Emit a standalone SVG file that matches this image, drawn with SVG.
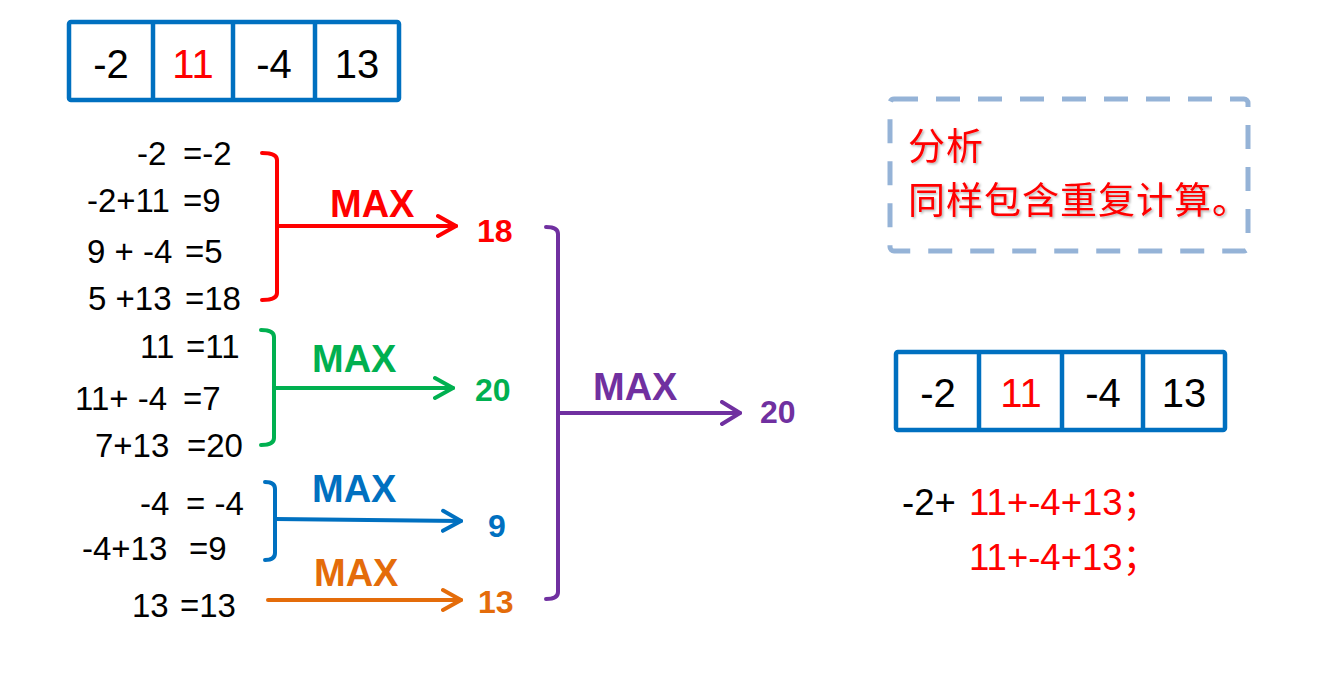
<svg xmlns="http://www.w3.org/2000/svg" width="1318" height="678" viewBox="0 0 1318 678">
<style>
.cell{fill:none;stroke:#0070C0;stroke-width:4.5}
.num{font-family:"Liberation Sans",Arial,sans-serif;font-size:40px;text-anchor:middle}
.eq{font-family:"Liberation Sans",Arial,sans-serif;font-size:33px;fill:#000}
.max{font-family:"Liberation Sans",Arial,sans-serif;font-size:38px;font-weight:bold}
.res{font-family:"Liberation Sans",Arial,sans-serif;font-size:32px;font-weight:bold}
.br{fill:none;stroke-width:4;stroke-linecap:round;stroke-linejoin:round}
.cn{font-family:"Noto Sans CJK SC",sans-serif;font-size:37px;letter-spacing:1px;fill:#FF0000}
.ex{font-family:"Liberation Sans",Arial,"Noto Sans CJK SC",sans-serif;font-size:36.5px}
.red{fill:#FF0000}.blk{fill:#000}
</style>
<defs>
<marker id="ah-red" viewBox="0 0 22 26" refX="20" refY="13" markerWidth="22" markerHeight="26" markerUnits="userSpaceOnUse" orient="auto"><path d="M2,3 L20,13 L2,23" fill="none" stroke="#FF0000" stroke-width="4" stroke-linecap="round" stroke-linejoin="round"/></marker>
<marker id="ah-green" viewBox="0 0 22 26" refX="20" refY="13" markerWidth="22" markerHeight="26" markerUnits="userSpaceOnUse" orient="auto"><path d="M2,3 L20,13 L2,23" fill="none" stroke="#00B050" stroke-width="4" stroke-linecap="round" stroke-linejoin="round"/></marker>
<marker id="ah-blue" viewBox="0 0 22 26" refX="20" refY="13" markerWidth="22" markerHeight="26" markerUnits="userSpaceOnUse" orient="auto"><path d="M2,3 L20,13 L2,23" fill="none" stroke="#0070C0" stroke-width="4" stroke-linecap="round" stroke-linejoin="round"/></marker>
<marker id="ah-orange" viewBox="0 0 22 26" refX="20" refY="13" markerWidth="22" markerHeight="26" markerUnits="userSpaceOnUse" orient="auto"><path d="M2,3 L20,13 L2,23" fill="none" stroke="#E46C0A" stroke-width="4" stroke-linecap="round" stroke-linejoin="round"/></marker>
<marker id="ah-purple" viewBox="0 0 22 26" refX="20" refY="13" markerWidth="22" markerHeight="26" markerUnits="userSpaceOnUse" orient="auto"><path d="M2,2 L20,13 L2,24" fill="none" stroke="#7030A0" stroke-width="4" stroke-linecap="round" stroke-linejoin="round"/></marker>
<filter id="shadow" x="-5%" y="-10%" width="110%" height="130%"><feDropShadow dx="1.5" dy="1.5" stdDeviation="1" flood-color="#000" flood-opacity="0.3"/></filter>
</defs>
<rect width="1318" height="678" fill="#fff"/>

<g id="array-top">
<rect class="cell" x="69" y="22" width="330" height="78" rx="2"/>
<line class="cell" x1="153" y1="22" x2="153" y2="100"/>
<line class="cell" x1="233" y1="22" x2="233" y2="100"/>
<line class="cell" x1="315" y1="22" x2="315" y2="100"/>
<text class="num blk" x="111" y="78">-2</text>
<text class="num red" x="193" y="78">11</text>
<text class="num blk" x="274" y="78">-4</text>
<text class="num blk" x="357" y="78">13</text>
</g>

<g id="sums-from-0">
<text class="eq" x="137" y="165">-2</text><text class="eq" x="183" y="165">=-2</text>
<text class="eq" x="87" y="212">-2+11</text><text class="eq" x="183" y="212">=9</text>
<text class="eq" x="87" y="263" xml:space="preserve">9 + -4</text><text class="eq" x="185" y="263">=5</text>
<text class="eq" x="88" y="310">5 +13</text><text class="eq" x="185" y="310">=18</text>
</g>
<g id="sums-from-1">
<text class="eq" x="140" y="358">11</text><text class="eq" x="186" y="358">=11</text>
<text class="eq" x="75" y="410" xml:space="preserve">11+ -4</text><text class="eq" x="183" y="410">=7</text>
<text class="eq" x="95" y="457">7+13</text><text class="eq" x="187" y="457">=20</text>
</g>
<g id="sums-from-2">
<text class="eq" x="140" y="515">-4</text><text class="eq" x="186" y="515" xml:space="preserve">= -4</text>
<text class="eq" x="82" y="560">-4+13</text><text class="eq" x="189" y="560">=9</text>
</g>
<g id="sums-from-3">
<text class="eq" x="132" y="617">13</text><text class="eq" x="180" y="617">=13</text>
</g>

<g id="connectors">
<path class="br" stroke="#FF0000" d="M262,153 Q277,153 277,160 V293 Q277,300 262,300"/>
<path class="br" stroke="#FF0000" d="M277,226 H456" marker-end="url(#ah-red)"/>
<path class="br" stroke="#00B050" d="M261,330 Q274,330 274,337 V438 Q274,445 261,445"/>
<path class="br" stroke="#00B050" d="M274,388 H453" marker-end="url(#ah-green)"/>
<path class="br" stroke="#0070C0" d="M265,482 Q275,482 275,489 V553 Q275,560 265,560"/>
<path class="br" stroke="#0070C0" d="M275,519 L461,521" marker-end="url(#ah-blue)"/>
<path class="br" stroke="#E46C0A" d="M268,600 H461" marker-end="url(#ah-orange)"/>
<path class="br" stroke="#7030A0" d="M546,227 Q558,227 558,234 V592 Q558,599 546,599"/>
<path class="br" stroke="#7030A0" d="M558,413 H740" marker-end="url(#ah-purple)"/>
</g>

<g id="max-red">
<text class="max" x="330" y="217" fill="#FF0000">MAX</text>
<text class="res" x="477" y="242" fill="#FF0000">18</text>
</g>
<g id="max-green">
<text class="max" x="312" y="372" fill="#00B050">MAX</text>
<text class="res" x="475" y="401" fill="#00B050">20</text>
</g>
<g id="max-blue">
<text class="max" x="312" y="502" fill="#0070C0">MAX</text>
<text class="res" x="488" y="537" fill="#0070C0">9</text>
</g>
<g id="max-orange">
<text class="max" x="314" y="586" fill="#E46C0A">MAX</text>
<text class="res" x="478" y="613" fill="#E46C0A">13</text>
</g>
<g id="max-purple">
<text class="max" x="593" y="400" fill="#7030A0">MAX</text>
<text class="res" x="760" y="423" fill="#7030A0">20</text>
</g>

<g id="analysis-note">
<rect x="890" y="99" width="358" height="152" rx="4" fill="none" stroke="#95B3D7" stroke-width="5" stroke-dasharray="24 18"/>
<text class="cn" filter="url(#shadow)"><tspan x="908" y="160">分析</tspan><tspan x="908" y="214">同样包含重复计算。</tspan></text>
</g>

<g id="array-right">
<rect class="cell" x="896" y="352" width="329" height="78" rx="2"/>
<line class="cell" x1="979" y1="352" x2="979" y2="430"/>
<line class="cell" x1="1062" y1="352" x2="1062" y2="430"/>
<line class="cell" x1="1143" y1="352" x2="1143" y2="430"/>
<text class="num blk" x="938" y="407">-2</text>
<text class="num red" x="1021" y="407">11</text>
<text class="num blk" x="1103" y="407">-4</text>
<text class="num blk" x="1184" y="407">13</text>
</g>

<g id="expressions">
<text class="ex blk" x="902" y="515">-2+</text>
<text class="ex red" x="969" y="515">11+-4+13；</text>
<text class="ex red" x="969" y="570">11+-4+13；</text>
</g>
</svg>
